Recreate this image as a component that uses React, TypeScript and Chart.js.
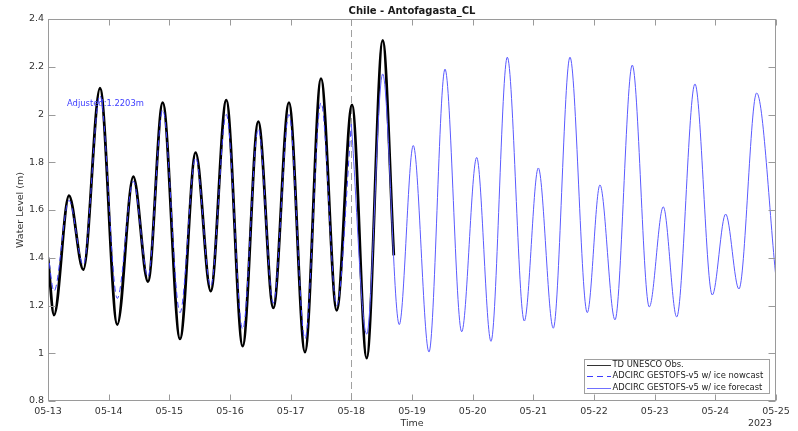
import React, { useEffect, useRef } from 'react';
import { Chart, registerables } from 'chart.js';

Chart.register(...registerables);

// ---- data ----
const dayLabels = ['05-13', '05-14', '05-15', '05-16', '05-17', '05-18', '05-19', '05-20', '05-21', '05-22', '05-23', '05-24', '05-25'];
const yearLabel = '2023';
const yTickValues = [0.8, 1.0, 1.2, 1.4, 1.6, 1.8, 2.0, 2.2, 2.4];
const forecastStartDay = 5; // 05-18

// days since 05-13 00:00
const obsTime = [0, 0.099, 0.346, 0.582, 0.857, 1.142, 1.406, 1.648, 1.891, 2.176, 2.434, 2.682, 2.939, 3.209, 3.466, 3.714, 3.972, 4.236, 4.5, 4.759, 5.011, 5.253, 5.517, 5.7];
const obsLevel = [1.4, 1.16, 1.66, 1.35, 2.11, 1.12, 1.74, 1.3, 2.05, 1.06, 1.84, 1.26, 2.06, 1.03, 1.97, 1.19, 2.05, 1.005, 2.15, 1.18, 2.04, 0.98, 2.31, 1.41];

const nowcastTime = [0, 0.099, 0.346, 0.582, 0.857, 1.142, 1.406, 1.648, 1.891, 2.176, 2.434, 2.682, 2.939, 3.209, 3.466, 3.714, 3.972, 4.236, 4.5, 4.759, 5.0];
const nowcastLevel = [1.42, 1.26, 1.64, 1.37, 2.08, 1.23, 1.72, 1.32, 2.02, 1.17, 1.82, 1.28, 2.0, 1.1, 1.94, 1.21, 2.0, 1.06, 2.05, 1.2, 1.96];

const forecastTime = [5.0, 5.253, 5.517, 5.79, 6.021, 6.28, 6.544, 6.819, 7.066, 7.302, 7.571, 7.851, 8.082, 8.329, 8.604, 8.889, 9.098, 9.346, 9.631, 9.911, 10.142, 10.363, 10.664, 10.95, 11.17, 11.389, 11.681, 12.0];
const forecastLevel = [1.96, 1.08, 2.17, 1.12, 1.87, 1.005, 2.19, 1.09, 1.82, 1.05, 2.24, 1.135, 1.776, 1.105, 2.24, 1.17, 1.705, 1.14, 2.207, 1.194, 1.613, 1.152, 2.128, 1.244, 1.583, 1.269, 2.09, 1.315];

const titleText = 'Chile - Antofagasta_CL';
const xTitle = 'Time';
const yTitle = 'Water Level (m)';
const adjustedText = 'Adjusted:1.2203m';
const legendLabels = ['TD UNESCO Obs.', 'ADCIRC GESTOFS-v5 w/ ice nowcast', 'ADCIRC GESTOFS-v5 w/ ice forecast'];

const FONT = '"DejaVu Sans", sans-serif';
const AXIS_COLOR = '#9a9a9a';
const TEXT_COLOR = '#333333';
const OBS_COLOR = '#000000';
const NOW_COLOR = '#3c3cff';
const FC_COLOR = '#5a5aff';

const toXY = (t: number[], v: number[]) => t.map((x, i) => ({ x, y: v[i] }));

const framePlugin = {
  id: 'framePlugin',
  beforeDatasetsDraw(chart: any) {
    const { ctx, chartArea: a, scales } = chart;
    const x = Math.round(scales.x.getPixelForValue(forecastStartDay)) + 0.5;
    ctx.save();
    ctx.strokeStyle = '#a0a0a0';
    ctx.lineWidth = 1;
    ctx.setLineDash([7, 4]);
    ctx.beginPath();
    ctx.moveTo(x, a.top);
    ctx.lineTo(x, a.bottom);
    ctx.stroke();
    ctx.restore();
  },
  afterDatasetsDraw(chart: any) {
    const { ctx, chartArea: a, scales } = chart;
    ctx.save();
    ctx.strokeStyle = AXIS_COLOR;
    ctx.lineWidth = 1;
    ctx.setLineDash([]);
    const L = Math.round(a.left) + 0.5, R = Math.round(a.right) - 0.5;
    const T = Math.round(a.top) + 0.5, B = Math.round(a.bottom) - 0.5;
    ctx.strokeRect(L, T, R - L, B - T);
    ctx.beginPath();
    dayLabels.forEach((_, i) => {
      const px = Math.round(scales.x.getPixelForValue(i)) + 0.5;
      ctx.moveTo(px, B); ctx.lineTo(px, B - 6);
      ctx.moveTo(px, T); ctx.lineTo(px, T + 6);
    });
    yTickValues.forEach((v) => {
      const py = Math.round(scales.y.getPixelForValue(v)) + 0.5;
      ctx.moveTo(L, py); ctx.lineTo(L + 7, py);
      ctx.moveTo(R, py); ctx.lineTo(R - 7, py);
    });
    ctx.stroke();
    ctx.restore();
  },
  afterDraw(chart: any) {
    const { ctx, chartArea: a } = chart;
    ctx.save();
    // title
    ctx.fillStyle = '#1a1a1a';
    ctx.font = `bold 10px ${FONT}`;
    ctx.textAlign = 'center';
    ctx.textBaseline = 'middle';
    ctx.fillText(titleText, (a.left + a.right) / 2, 11);
    // x title & year
    ctx.font = `9.5px ${FONT}`;
    ctx.fillStyle = TEXT_COLOR;
    ctx.fillText(xTitle, (a.left + a.right) / 2, 424);
    ctx.fillText(yearLabel, 760, 424);
    // y title
    ctx.save();
    ctx.translate(21, (a.top + a.bottom) / 2);
    ctx.rotate(-Math.PI / 2);
    ctx.fillText(yTitle, 0, 0);
    ctx.restore();
    // adjusted annotation
    ctx.font = `8.4px ${FONT}`;
    ctx.fillStyle = '#4040ff';
    ctx.textAlign = 'left';
    ctx.fillText(adjustedText, 67, 104);
    // legend
    const bx = 584.5, by = 359.5, bw = 185, bh = 34;
    ctx.fillStyle = '#ffffff';
    ctx.fillRect(bx, by, bw, bh);
    ctx.strokeStyle = '#a0a0a0';
    ctx.lineWidth = 1;
    ctx.strokeRect(bx, by, bw, bh);
    const rows = [365, 376, 387.5];
    const styles = [
      { c: '#333333', d: [] as number[], w: 1 },
      { c: NOW_COLOR, d: [6, 4], w: 1 },
      { c: '#7070ff', d: [] as number[], w: 1 },
    ];
    rows.forEach((ry, i) => {
      ctx.save();
      ctx.strokeStyle = styles[i].c;
      ctx.lineWidth = styles[i].w;
      ctx.setLineDash(styles[i].d);
      ctx.beginPath();
      ctx.moveTo(587, Math.round(ry) + 0.5);
      ctx.lineTo(611, Math.round(ry) + 0.5);
      ctx.stroke();
      ctx.restore();
      ctx.fillStyle = '#222222';
      ctx.font = `8.4px ${FONT}`;
      ctx.textAlign = 'left';
      ctx.textBaseline = 'middle';
      ctx.fillText(legendLabels[i], 612.5, ry);
    });
    ctx.restore();
  },
};

export default function App() {
  const ref = useRef<HTMLCanvasElement | null>(null);

  useEffect(() => {
    document.body.style.margin = '0';
    const canvas = ref.current;
    if (!canvas) return;
    const chart = new Chart(canvas, {
      type: 'line',
      data: {
        datasets: [
          {
            label: legendLabels[2],
            data: toXY(forecastTime, forecastLevel),
            borderColor: FC_COLOR,
            borderWidth: 1,
            pointRadius: 0,
            cubicInterpolationMode: 'monotone',
            order: 0,
          },
          {
            label: legendLabels[1],
            data: toXY(nowcastTime, nowcastLevel),
            borderColor: NOW_COLOR,
            borderWidth: 1,
            borderDash: [6, 4],
            pointRadius: 0,
            cubicInterpolationMode: 'monotone',
            order: 1,
          },
          {
            label: legendLabels[0],
            data: toXY(obsTime, obsLevel),
            borderColor: OBS_COLOR,
            borderWidth: 2.8,
            pointRadius: 0,
            cubicInterpolationMode: 'monotone',
            order: 2,
          },
        ],
      },
      options: {
        animation: false,
        responsive: false,
        devicePixelRatio: 1,
        parsing: false as any,
        layout: { padding: { top: 19, right: 22, left: 0, bottom: 0 } },
        plugins: {
          legend: { display: false },
          title: { display: false },
          tooltip: { enabled: false },
        },
        scales: {
          x: {
            type: 'linear',
            min: 0,
            max: 12,
            grid: { display: false, drawTicks: false },
            border: { display: false },
            afterFit: (s: any) => { s.height = 30; },
            afterBuildTicks: (s: any) => { s.ticks = dayLabels.map((_, i) => ({ value: i })); },
            ticks: {
              autoSkip: false,
              maxRotation: 0,
              padding: 5,
              color: TEXT_COLOR,
              font: { family: FONT, size: 9.5 },
              callback: (v: any) => dayLabels[Math.round(Number(v))] ?? '',
            },
          },
          y: {
            type: 'linear',
            min: 0.8,
            max: 2.4,
            grid: { display: false, drawTicks: false },
            border: { display: false },
            afterFit: (s: any) => { s.width = 48; },
            afterBuildTicks: (s: any) => { s.ticks = yTickValues.map((v) => ({ value: v })); },
            ticks: {
              padding: 4,
              color: TEXT_COLOR,
              font: { family: FONT, size: 9.5 },
              callback: (v: any) => String(Number(Number(v).toFixed(1))),
            },
          },
        },
      },
      plugins: [framePlugin],
    });
    return () => chart.destroy();
  }, []);

  return (
    <div style={{ position: 'absolute', left: 0, top: 0, width: 798, height: 431, background: '#fff' }}>
      <canvas ref={ref} width={798} height={431} style={{ display: 'block' }} />
    </div>
  );
}
